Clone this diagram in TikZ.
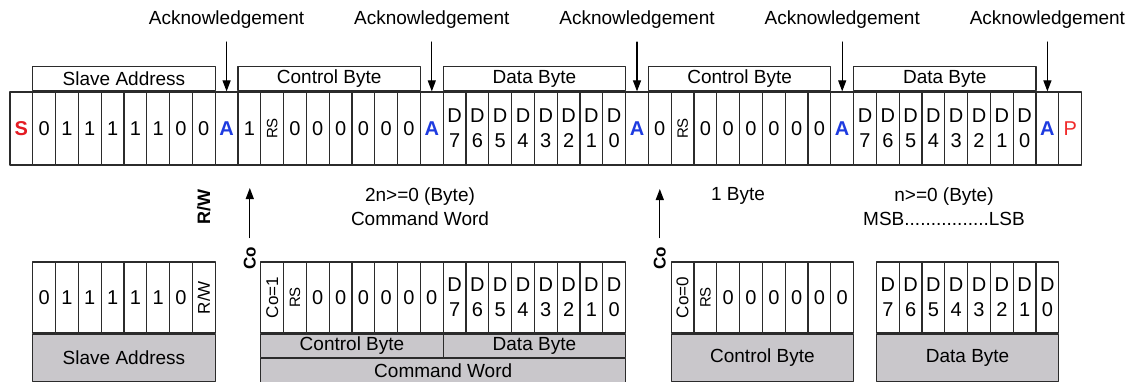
\documentclass[tikz,border=0pt]{standalone}
\usepackage{fontspec}
\setmainfont{Liberation Sans}
\usetikzlibrary{arrows.meta}
\definecolor{sred}{HTML}{E41B23}
\definecolor{pred}{HTML}{F02A2A}
\definecolor{ablue}{HTML}{1E3BE0}
\definecolor{barg}{HTML}{C9C7CB}
\definecolor{lineg}{HTML}{2B2B2B}
\newcommand{\fsz}[1]{\fontsize{#1}{#1}\selectfont}
\newcommand{\vtxt}[2]{\rotatebox{90}{\fsz{#1}#2}}
\newcommand{\sbit}{\textbf{\textcolor{sred}{S}}}
\newcommand{\pbit}{\textcolor{pred}{P}}
\newcommand{\ackA}{\textbf{\textcolor{ablue}{A}}}
\newcommand{\rsbit}{\vtxt{15}{RS}}
\begin{document}
\begin{tikzpicture}[line cap=round,line join=round,x=1pt,y=-1pt,>={Triangle[length=11pt,width=8pt]},
  cell/.style={draw=lineg,line width=1.2pt,minimum width=22.8pt,minimum height=73pt,inner sep=0pt,
    align=center,font=\fontsize{20}{25}\selectfont},
  bcell/.style={cell,minimum height=71pt},
  brk/.style={draw=lineg,line width=1.2pt,minimum width=182.4pt,minimum height=24pt,inner sep=0pt,
    anchor=south west,font=\fsz{19}},
  bar/.style={draw=lineg,line width=1.2pt,fill=barg,inner sep=0pt,anchor=north west,font=\fsz{19}},
  ack/.style={inner sep=0pt,font=\fsz{19}},
  lbl/.style={inner sep=0pt,align=center,font=\fontsize{19}{24}\selectfont}]
\useasboundingbox (0,0) rectangle (1142,382);

\foreach \lab [count=\i from 0] in {\sbit,0,1,1,1,1,1,0,0,\ackA,1,\rsbit,0,0,0,0,0,0,\ackA,
    {D\\7},{D\\6},{D\\5},{D\\4},{D\\3},{D\\2},{D\\1},{D\\0},\ackA,0,\rsbit,0,0,0,0,0,0,\ackA,
    {D\\7},{D\\6},{D\\5},{D\\4},{D\\3},{D\\2},{D\\1},{D\\0},\ackA,\pbit}
  \node[cell] (t\i) at ({10+22.8*(\i+0.5)},128.5) {\lab};

\foreach \a/\txt/\nm in {1/Slave Address/bsa,10/Control Byte/bcb1,19/Data Byte/bdb1,28/Control Byte/bcb2,37/Data Byte/bdb2}
  \node[brk] (\nm) at (t\a.north west) {\txt};

\foreach \c [count=\k] in {9,18,27,36,45} {
  \node[ack] (ack\k) at ({10+22.8*(\c+0.5)},20) {Acknowledgement};
  \draw[line width=1.2pt,->,shorten <=13pt] (ack\k.south) -- (t\c.north);
}

\node[lbl] (rw) at (203.8,207) {\vtxt{18}{\textbf{R/W}}};
\node[lbl] (co1) at (249.8,258) {\vtxt{17}{\textbf{Co}}};
\coordinate (co1tip) at (249.8,188);
\draw[line width=1.2pt,->,shorten <=9pt] (co1.north) -- (co1tip);
\node[lbl] (co2) at (659.8,258) {\vtxt{17}{\textbf{Co}}};
\coordinate (co2tip) at (659.8,189);
\draw[line width=1.2pt,->,shorten <=9pt] (co2.north) -- (co2tip);

\node[lbl] (cmdw) at (420,207) {2n>=0 (Byte)\\Command Word};
\node[lbl] (onebyte) at (738,196) {1 Byte};
\node[lbl] (msblsb) at (944,207) {n>=0 (Byte)\\MSB................LSB};

\foreach \lab [count=\i from 0] in {0,1,1,1,1,1,0,{\vtxt{17}{R/W}}}
  \node[bcell] (s\i) at ({32.8+22.8*(\i+0.5)},297.5) {\lab};
\node[bar,minimum width=182.4pt,minimum height=47pt] (sab) at (s0.south west) {Slave Address};

\foreach \lab [count=\i from 0] in {{\vtxt{17}{Co=1}},\rsbit,0,0,0,0,0,0,
    {D\\7},{D\\6},{D\\5},{D\\4},{D\\3},{D\\2},{D\\1},{D\\0}}
  \node[bcell] (c\i) at ({260.8+22.8*(\i+0.5)},297.5) {\lab};
\node[bar,minimum width=182.4pt,minimum height=23pt] (cbb) at (c0.south west) {Control Byte};
\node[bar,minimum width=182.4pt,minimum height=23pt] (dbb) at (c8.south west) {Data Byte};
\node[bar,minimum width=364.8pt,minimum height=24pt] (cwb) at (cbb.south west) {Command Word};

\foreach \lab [count=\i from 0] in {{\vtxt{17}{Co=0}},\rsbit,0,0,0,0,0,0}
  \node[bcell] (k\i) at ({671.2+22.8*(\i+0.5)},297.5) {\lab};
\node[bar,minimum width=182.4pt,minimum height=47pt] (kbb) at (k0.south west) {Control Byte};

\foreach \lab [count=\i from 0] in {{D\\7},{D\\6},{D\\5},{D\\4},{D\\3},{D\\2},{D\\1},{D\\0}}
  \node[bcell] (d\i) at ({876.4+22.8*(\i+0.5)},297.5) {\lab};
\node[bar,minimum width=182.4pt,minimum height=47pt] (ddb) at (d0.south west) {Data Byte};
\end{tikzpicture}
\end{document}
